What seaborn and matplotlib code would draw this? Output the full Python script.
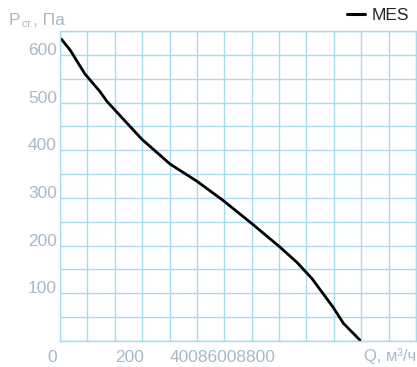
import matplotlib
matplotlib.use("Agg")
import matplotlib.pyplot as plt
import matplotlib.transforms as mtransforms
import seaborn as sns
import pandas as pd

# ---- data ----
q_values = [5, 37, 91, 146, 172, 299, 402, 500, 595, 701, 803, 865, 920, 997, 1035, 1095]
p_values = [633, 610, 560, 523, 502, 423, 371, 335, 295, 246, 197, 165, 131, 71, 37, 2]
series_name = "MES"
y_ticks = [100, 200, 300, 400, 500, 600]
y_tick_labels = ["100", "200", "300", "400", "500", "600"]
x_ticks = [200, 400, 600, 800, 1200]
x_label_pos = [0, 200, 400]
x_label_text = ["0", "200", "40086008800"]

df = pd.DataFrame({"Q": q_values, "P": p_values, "series": series_name})

sns.set_style("white")
plt.rcParams["font.family"] = ["Liberation Sans", "DejaVu Sans"]

grid_c = "#a6dcf0"
text_c = "#a9b9c7"

fig = plt.figure(figsize=(4.17, 3.67), dpi=100)
ax = fig.add_axes([60 / 417, 26 / 367, 356 / 417, 310 / 367])

sns.lineplot(data=df, x="Q", y="P", hue="series", palette=["black"],
             linewidth=2.0, ax=ax, legend=True, sort=False)
for ln in ax.get_lines():
    ln.set_solid_joinstyle("round")
    ln.set_solid_capstyle("round")

ax.set_xlim(0, 1300)
ax.set_ylim(0, 645)

ax.set_xticks(x_ticks)
ax.set_xticklabels([])
ax.set_yticks(y_ticks)
ax.set_yticklabels([])

# grid
ax.set_xticks(range(0, 1301, 100), minor=True)
ax.set_yticks(range(0, 651, 50), minor=True)
ax.grid(which="both", color=grid_c, linewidth=1.0)
ax.set_axisbelow(True)
for s in ax.spines.values():
    s.set_color(grid_c)
    s.set_linewidth(1.0)

ax.tick_params(axis="both", which="major", color=grid_c, length=5, width=1.0)
ax.tick_params(axis="x", which="major", length=6)
ax.tick_params(which="minor", length=0)
ax.set_xlabel("")
ax.set_ylabel("")

# y tick labels
ytr = mtransforms.offset_copy(ax.get_yaxis_transform(), fig=fig, x=-3, y=0, units="dots")
for v, lab in zip(y_ticks, y_tick_labels):
    ax.text(0, v, lab, transform=ytr, ha="right", va="baseline", fontsize=12.5, color=text_c)

# x tick labels
for v, lab in zip(x_label_pos, x_label_text):
    if v == 0:
        t2 = mtransforms.offset_copy(ax.get_xaxis_transform(), fig=fig, x=-3, y=-9, units="dots")
        ax.text(v, 0, lab, transform=t2, ha="right", va="top", fontsize=12.5, color=text_c)
    else:
        xtr = mtransforms.offset_copy(ax.get_xaxis_transform(), fig=fig, x=0, y=-9, units="dots")
        ax.text(v, 0, lab, transform=xtr, ha="left", va="top", fontsize=12.5, color=text_c)

# axis titles
fig.text(9 / 417, 1 - 25 / 367, "Р", fontsize=12.5, color=text_c, ha="left", va="baseline")
fig.text(21 / 417, 1 - 27 / 367, "ст.", fontsize=7.5, color=text_c, ha="left", va="baseline")
fig.text(33 / 417, 1 - 25 / 367, ", Па", fontsize=12.5, color=text_c, ha="left", va="baseline")
fig.text(416 / 417, 1 - 361 / 367, "Q, м³/ч", fontsize=12, color=text_c, ha="right", va="baseline")

# legend
leg = ax.legend(loc="upper right", bbox_to_anchor=(1.0, 1.0), bbox_transform=fig.transFigure,
                frameon=False, fontsize=12.5, handlelength=1.0, handletextpad=0.4,
                borderaxespad=0.2, borderpad=0.25)
for line in leg.get_lines():
    line.set_linewidth(2.2)

fig.savefig("out.png", dpi=100)
